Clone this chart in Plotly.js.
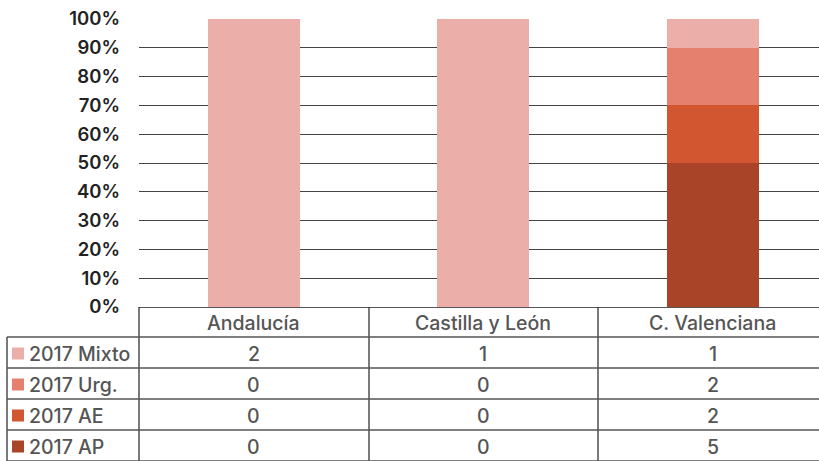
<!DOCTYPE html>
<html>
<head>
<meta charset="utf-8">
<script src="https://cdn.plot.ly/plotly-3.0.1.min.js"></script>
<style>html,body{margin:0;padding:0;background:#fff;}#chart{width:819px;height:461px;}</style>
</head>
<body>
<div id="chart"></div>
<script>
// ---- data ----
const categories = ["Andalucía", "Castilla y León", "C. Valenciana"];
const seriesNames = ["2017 Mixto", "2017 Urg.", "2017 AE", "2017 AP"];
const mixto = [2, 1, 1];
const urg = [0, 0, 2];
const ae = [0, 0, 2];
const ap = [0, 0, 5];
const seriesColors = ["#ECAEA8", "#E6806E", "#D2562F", "#AA4428"];

const seriesValues = [mixto, urg, ae, ap];

// ---- geometry helpers (pixel -> paper) ----
const W = 819, H = 461;
const ML = 139, MR = 0, MT = 19, MB = 154;
const plotW = W - ML - MR, plotH = H - MT - MB;
const px = p => (p - ML) / plotW;
const py = p => (H - MB - p) / plotH;

const colW = 229.5;
const xRangeEnd = -0.5 + plotW / colW;

const FONT = "Inter, Liberation Sans, Arial, sans-serif";

// traces: bottom first (AP), top last (Mixto)
const traces = [];
for (let i = seriesNames.length - 1; i >= 0; i--) {
  traces.push({
    type: "bar",
    name: seriesNames[i],
    x: categories,
    y: seriesValues[i],
    marker: {color: seriesColors[i], line: {width: 0}},
    hoverinfo: "none"
  });
}

// ---- table ----
const lineColor = "#333";
const shapes = [];
const rowTops = [307, 337, 368, 399, 430, 461];
[139, 369, 598].forEach(x => {
  shapes.push({type: "line", xref: "paper", yref: "paper", x0: px(x), x1: px(x), y0: py(307), y1: py(461), line: {color: lineColor, width: 1.3}});
});
shapes.push({type: "line", xref: "paper", yref: "paper", x0: px(7), x1: px(7), y0: py(337), y1: py(461), line: {color: lineColor, width: 1.3}});
for (let r = 1; r < rowTops.length; r++) {
  shapes.push({type: "line", xref: "paper", yref: "paper", x0: px(7), x1: px(819), y0: py(rowTops[r]), y1: py(rowTops[r]), line: {color: "#555", width: 1.3}});
}
const annotations = [];
const tableFont = {family: FONT, size: 19.5, color: "#555", weight: 500};
categories.forEach(c => {
  annotations.push({xref: "x", yref: "paper", x: c, y: py((307 + 337) / 2 + 1), text: c, showarrow: false, font: tableFont, xanchor: "center", yanchor: "middle"});
});
seriesNames.forEach((name, i) => {
  const top = rowTops[i + 1], bot = rowTops[i + 2];
  const mid = (top + bot) / 2 + 1;
  shapes.push({type: "rect", xref: "paper", yref: "paper", x0: px(12), x1: px(24), y0: py(mid - 6), y1: py(mid + 6), fillcolor: seriesColors[i], line: {width: 0}});
  annotations.push({xref: "paper", yref: "paper", x: px(27), y: py(mid), text: name, showarrow: false, font: tableFont, xanchor: "left", yanchor: "middle"});
  categories.forEach((c, j) => {
    annotations.push({xref: "x", yref: "paper", x: c, y: py(mid), text: String(seriesValues[i][j]), showarrow: false, font: tableFont, xanchor: "center", yanchor: "middle"});
  });
});

const layout = {
  width: W, height: H,
  margin: {l: ML, r: MR, t: MT, b: MB, pad: 0},
  paper_bgcolor: "#fff", plot_bgcolor: "#fff",
  barmode: "stack", barnorm: "percent", bargap: 0.6,
  showlegend: false,
  xaxis: {type: "category", range: [-0.5, xRangeEnd], showticklabels: false, showgrid: false, zeroline: false, showline: true, linecolor: "#555", linewidth: 1.3, ticks: "", fixedrange: true},
  yaxis: {range: [0, 100], dtick: 10, ticksuffix: "%", showgrid: true, gridcolor: "#444", gridwidth: 1, zeroline: false, showline: false, ticks: "", ticklen: 0,
          ticklabelstandoff: 18,
          tickfont: {family: FONT, size: 18.5, color: "#222", weight: 600}, fixedrange: true, automargin: false},
  shapes: shapes,
  annotations: annotations,
  font: {family: FONT}
};

Plotly.newPlot("chart", traces, layout, {displayModeBar: false, staticPlot: true});
</script>
</body>
</html>
